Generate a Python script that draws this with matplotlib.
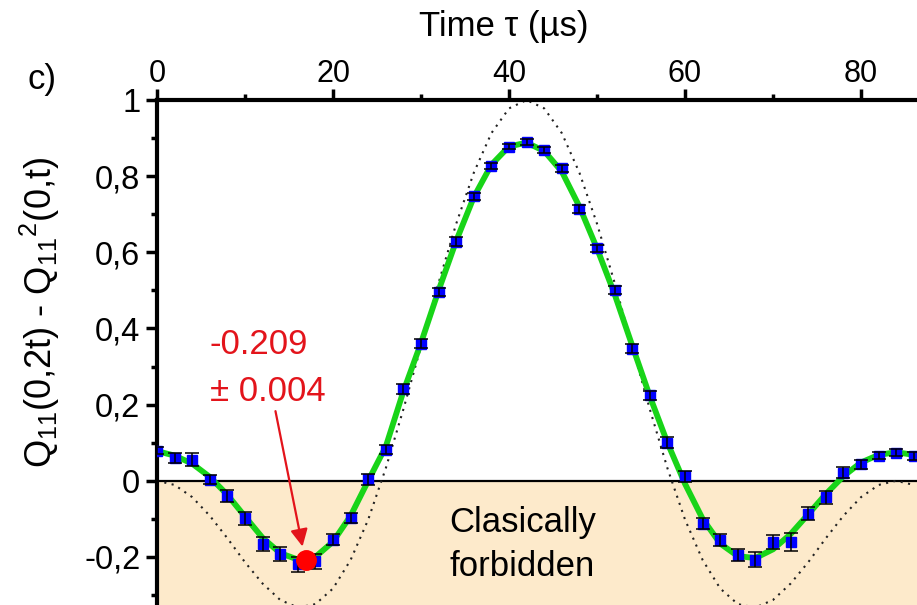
import numpy as np
import matplotlib
matplotlib.use('Agg')
from matplotlib import pyplot as plt
from matplotlib.ticker import MultipleLocator, FuncFormatter

plt.rcParams['font.family'] = ['Liberation Sans', 'DejaVu Sans']
plt.rcParams['mathtext.fontset'] = 'custom'
plt.rcParams['mathtext.rm'] = 'Liberation Sans'
plt.rcParams['mathtext.it'] = 'Liberation Sans'

# measured points (time in us)
t_data = [0, 2, 4, 6, 8, 10, 12, 14, 16, 18, 20, 22, 24, 26, 28, 30, 32, 34, 36, 38, 40, 42,
          44, 46, 48, 50, 52, 54, 56, 58, 60, 62, 64, 66, 68, 70, 72, 74, 76, 78, 80, 82, 84, 86]
q_data = [0.079, 0.060, 0.055, 0.003, -0.039, -0.098, -0.167, -0.193, -0.219, -0.212, -0.155,
          -0.098, 0.004, 0.082, 0.241, 0.360, 0.496, 0.628, 0.747, 0.827, 0.877, 0.890,
          0.868, 0.821, 0.713, 0.610, 0.501, 0.347, 0.224, 0.100, 0.012, -0.113, -0.156,
          -0.195, -0.207, -0.161, -0.161, -0.087, -0.043, 0.021, 0.043, 0.066, 0.074, 0.065]
q_err = [0.010, 0.013, 0.017, 0.012, 0.016, 0.017, 0.018, 0.018, 0.020, 0.020, 0.015,
         0.013, 0.015, 0.013, 0.012, 0.012, 0.010, 0.012, 0.010, 0.008, 0.007, 0.008,
         0.008, 0.009, 0.010, 0.010, 0.010, 0.012, 0.013, 0.014, 0.014, 0.014, 0.015,
         0.015, 0.020, 0.019, 0.023, 0.017, 0.017, 0.015, 0.012, 0.010, 0.010, 0.010]

# fit (green) and ideal curve (dotted), read every 2 us
t_curve = t_data
q_fit = [0.078, 0.066, 0.045, 0.010, -0.037, -0.094, -0.150, -0.190, -0.207, -0.200, -0.160,
         -0.092, 0.000, 0.090, 0.235, 0.362, 0.500, 0.630, 0.745, 0.830, 0.878, 0.888,
         0.866, 0.812, 0.720, 0.610, 0.490, 0.355, 0.222, 0.100, -0.008, -0.100, -0.165,
         -0.198, -0.203, -0.180, -0.140, -0.088, -0.035, 0.012, 0.048, 0.068, 0.075, 0.068]
q_ideal = [0.0, -0.011, -0.043, -0.092, -0.151, -0.214, -0.270, -0.313, -0.333, -0.324, -0.283,
           -0.208, -0.102, 0.033, 0.188, 0.353, 0.520, 0.675, 0.809, 0.913, 0.978, 1.0,
           0.978, 0.913, 0.809, 0.675, 0.520, 0.353, 0.188, 0.033, -0.102, -0.208, -0.283,
           -0.324, -0.333, -0.313, -0.270, -0.214, -0.151, -0.092, -0.043, -0.011, 0.0, -0.011]

t_min, q_min = 16.9, -0.209

fig = plt.figure(figsize=(9.17, 6.05), dpi=100)
ax = fig.add_axes([157/917, 0.0, 1 - 157/917, 1 - 100/605])
ax.set_xlim(0, 86.36)
ax.set_ylim(-0.3263, 1.0)

ax.axhspan(-0.5, 0, color='#fdeacb', zorder=0)
ax.axhline(0, color='black', lw=1.6, zorder=1)

ax.plot(t_curve, q_ideal, color='#222222', lw=1.5, ls=(0, (1, 2.6)), zorder=2)
ax.plot(t_curve, q_fit, color='#18d418', lw=4.2, solid_joinstyle='round', zorder=3)
ax.plot(t_data, q_data, 's', color='#0000ff', ms=6.5, zorder=4)
ax.errorbar(t_data, q_data, yerr=q_err, fmt='none', ecolor='black', elinewidth=1.1,
            capsize=5, capthick=1.1, zorder=5)
ax.plot([t_min], [q_min], 'o', color='#ff0000', ms=14, zorder=6)

red = '#e3141b'
ax.text(11.6, 0.358, '-0.209', color=red, fontsize=25, ha='center', va='center')
ax.text(12.6, 0.235, '\u00b1 0.004', color=red, fontsize=25, ha='center', va='center')
ax.annotate('', xy=(16.6, -0.18), xytext=(13.4, 0.19),
            arrowprops=dict(arrowstyle='-|>', color=red, lw=1.6, mutation_scale=26))

ax.text(41.5, -0.11, 'Clasically', fontsize=25, ha='center', va='center')
ax.text(41.5, -0.225, 'forbidden', fontsize=25, ha='center', va='center')

for s in ['right', 'bottom']:
    ax.spines[s].set_visible(False)
for s in ['left', 'top']:
    ax.spines[s].set_linewidth(3)

ax.xaxis.tick_top()
ax.xaxis.set_major_locator(MultipleLocator(20))
ax.xaxis.set_minor_locator(MultipleLocator(10))
ax.yaxis.set_major_locator(MultipleLocator(0.2))
ax.yaxis.set_minor_locator(MultipleLocator(0.1))
ax.yaxis.set_major_formatter(FuncFormatter(lambda v, p: ('%g' % round(v, 2)).replace('.', ',')))
ax.tick_params(which='major', direction='out', length=8, width=2.5)
ax.tick_params(which='minor', direction='out', length=4, width=2.5)
ax.tick_params(axis='x', labelsize=22, pad=0)
ax.tick_params(axis='y', labelsize=23.5, pad=4)

ax.xaxis.set_label_position('top')
ax.set_xlabel('Time \u03c4 (\u00b5s)', fontsize=25)
ax.xaxis.label.set_va('center')
ax.xaxis.set_label_coords(0.4566, 1.1465)
ax.set_ylabel(r'Q$_{11}$(0,2t) - Q$_{11}$$^{2}$(0,t)', fontsize=26)
ax.yaxis.label.set_va('center')
ax.yaxis.set_label_coords(-0.154, 0.58)

fig.text(42/917, 1 - 80/605, 'c)', fontsize=25, ha='center', va='center')

plt.savefig('out.png', dpi=100)
